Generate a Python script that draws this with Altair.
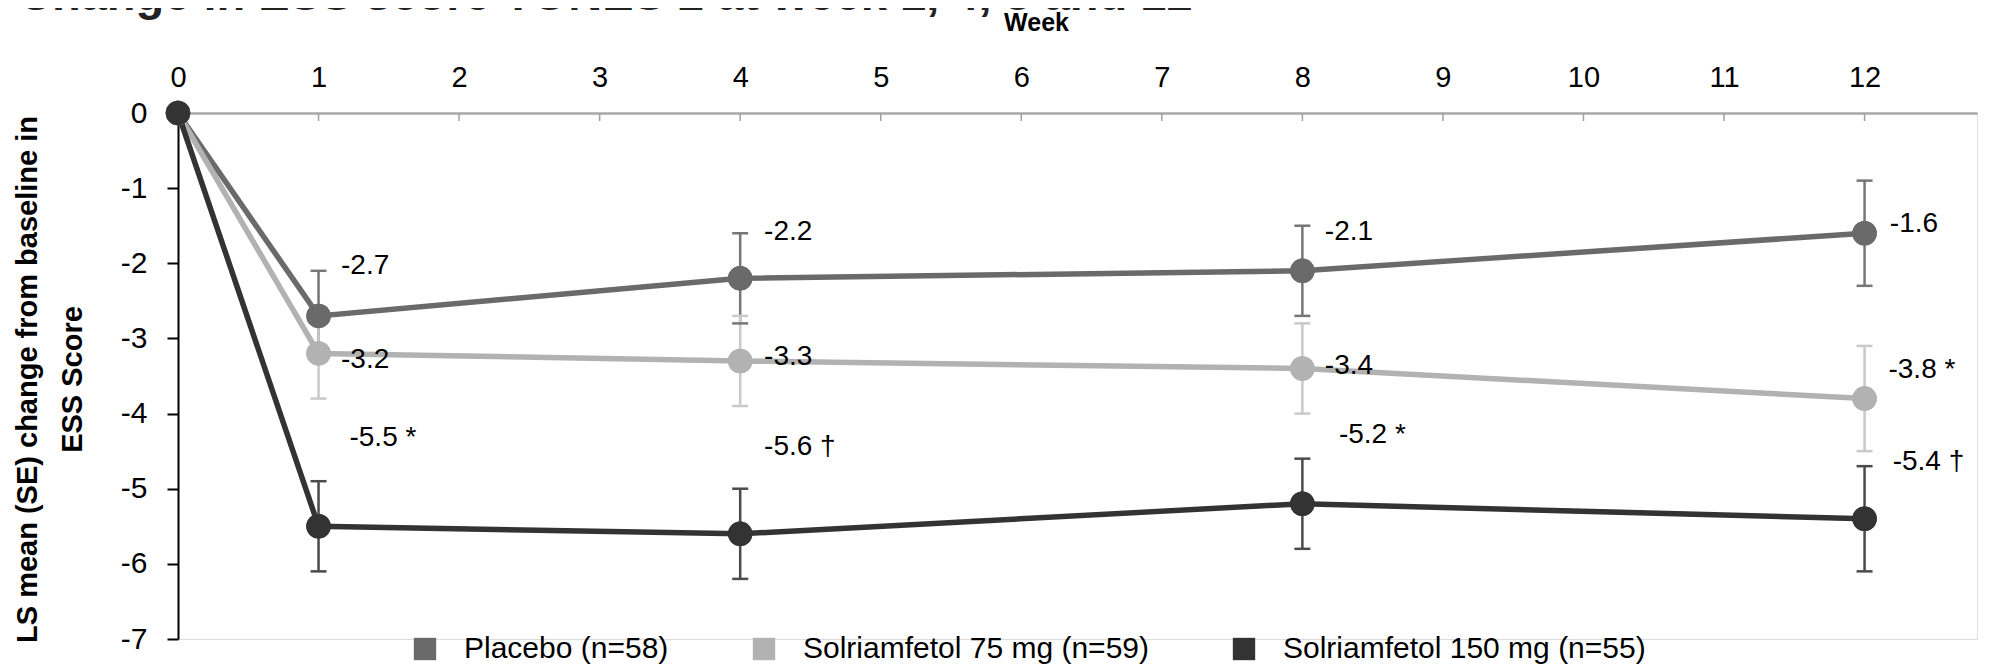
import altair as alt
import pandas as pd

# ---------------- data ----------------
weeks = [0, 1, 4, 8, 12]
groups = ["Placebo (n=58)", "Solriamfetol 75 mg (n=59)", "Solriamfetol 150 mg (n=55)"]
mean_placebo = [0.0, -2.7, -2.2, -2.1, -1.6]
mean_75 = [0.0, -3.2, -3.3, -3.4, -3.8]
mean_150 = [0.0, -5.5, -5.6, -5.2, -5.4]
se_placebo = [0.0, 0.6, 0.6, 0.6, 0.7]
se_75 = [0.0, 0.6, 0.6, 0.6, 0.7]
se_150 = [0.0, 0.6, 0.6, 0.6, 0.7]
sig_placebo = ["", "", "", "", ""]
sig_75 = ["", "", "", "", "*"]
sig_150 = ["", "*", "\u2020", "*", "\u2020"]
x_tick_values = list(range(0, 13))
y_tick_values = [0, -1, -2, -3, -4, -5, -6, -7]
title_text = "Change in ESS score TONES 2 at week 1, 4, 8 and 12"

# annotation anchors (in week / score units) for the value labels at weeks 1, 4, 8, 12
label_x = [[1.16, 4.17, 8.16, 12.18], [1.16, 4.17, 8.16, 12.17], [1.22, 4.17, 8.26, 12.2]]
label_y = [[-2.04, -1.58, -1.58, -1.48], [-3.29, -3.25, -3.37, -3.42], [-4.33, -4.45, -4.29, -4.65]]

line_colors = ["#6a6a6a", "#b2b2b2", "#333333"]
bar_colors = ["#767676", "#c9c9c9", "#4b4b4b"]

FONT = "Liberation Sans"

# ---------------- tables ----------------
means = [mean_placebo, mean_75, mean_150]
ses = [se_placebo, se_75, se_150]
sigs = [sig_placebo, sig_75, sig_150]

rows = []
for gi, g in enumerate(groups):
    for wi, w in enumerate(weeks):
        m, s = means[gi][wi], ses[gi][wi]
        rows.append({"week": w, "value": m, "group": g, "order": gi,
                     "lo": m - s, "hi": m + s, "se": s, "bcolor": bar_colors[gi]})
df = pd.DataFrame(rows)
df_err = df[df["se"] > 0]

lab_rows = []
for gi, g in enumerate(groups):
    for k, wi in enumerate(range(1, len(weeks))):
        v = means[gi][wi]
        sg = sigs[gi][wi]
        txt = f"{v:.1f}"
        if sg == "*":
            txt += "  *"
        elif sg:
            txt += " " + sg
        lab_rows.append({"lx": label_x[gi][k], "ly": label_y[gi][k], "label": txt})
df_lab = pd.DataFrame(lab_rows)

df_ticks = pd.DataFrame({"week": x_tick_values[1:]})
df_title = pd.DataFrame({"t": [title_text]})

# ---------------- scales ----------------
x_scale = alt.Scale(domain=[0, 12.8], nice=False, zero=False)
y_scale = alt.Scale(domain=[-7, 0], nice=False, zero=False)
color_scale = alt.Scale(domain=groups, range=line_colors)

legend = alt.Legend(
    title=None, orient="none", legendX=232, legendY=521, direction="horizontal",
    symbolType="square", symbolSize=500, symbolStrokeWidth=0, symbolOpacity=1,
    labelFontSize=30, labelFont=FONT, labelColor="#000000", labelOffset=24,
    columnPadding=80, labelLimit=0, padding=0,
)

x_axis = alt.Axis(
    orient="top", values=x_tick_values, format="d", grid=False,
    labelExpr="'' + datum.value",
    domainColor="#a8a8a8", domainWidth=2.5, ticks=False, tickSize=0,
    labelFontSize=29, labelFont=FONT, labelColor="#000000", labelPadding=21,
    labelFlush=False, labelOverlap=False,
    title="Week", titleFont=FONT, titleFontSize=25, titleFontWeight="bold",
    titleColor="#000000", titleX=858, titleY=-91, titleAlign="center",
    titleBaseline="middle", titleAnchor="start",
)
y_axis = alt.Axis(
    values=y_tick_values, grid=False,
    labelExpr="'' + datum.value",
    domainColor="#000000", domainWidth=2, tickColor="#000000", tickWidth=2, tickSize=11,
    labelFontSize=30, labelFont=FONT, labelColor="#000000", labelPadding=20,
    title=["LS mean (SE) change from baseline in", "ESS Score"],
    titleFont=FONT, titleFontSize=29, titleFontWeight="bold", titleColor="#000000",
    titleLineHeight=45, titleX=-151, titleY=266, titleAngle=270,
    titleAlign="center", titleBaseline="middle", titleAnchor="start",
)

base = alt.Chart(df)

err = alt.Chart(df_err).mark_rule(strokeWidth=2.5).encode(
    x=alt.X("week:Q", scale=x_scale, axis=x_axis),
    y=alt.Y("lo:Q", scale=y_scale, axis=y_axis),
    y2="hi:Q",
    color=alt.Color("bcolor:N", scale=None),
)
cap_lo = alt.Chart(df_err).mark_tick(orient="horizontal", size=16, thickness=2.5, opacity=1).encode(
    x=alt.X("week:Q", scale=x_scale),
    y=alt.Y("lo:Q", scale=y_scale),
    color=alt.Color("bcolor:N", scale=None),
)
cap_hi = alt.Chart(df_err).mark_tick(orient="horizontal", size=16, thickness=2.5, opacity=1).encode(
    x=alt.X("week:Q", scale=x_scale),
    y=alt.Y("hi:Q", scale=y_scale),
    color=alt.Color("bcolor:N", scale=None),
)

points_under = base.mark_circle(size=600, opacity=1).encode(
    x=alt.X("week:Q", scale=x_scale),
    y=alt.Y("value:Q", scale=y_scale),
    color=alt.Color("group:N", scale=color_scale, legend=legend, sort=groups),
    order=alt.Order("order:Q"),
)
lines = base.mark_line(strokeWidth=5.5).encode(
    x=alt.X("week:Q", scale=x_scale),
    y=alt.Y("value:Q", scale=y_scale),
    color=alt.Color("group:N", scale=color_scale, legend=legend, sort=groups),
    detail="group:N",
)
points_over = base.mark_circle(size=600, opacity=1).encode(
    x=alt.X("week:Q", scale=x_scale),
    y=alt.Y("value:Q", scale=y_scale),
    color=alt.Color("group:N", scale=color_scale, legend=legend, sort=groups),
    order=alt.Order("order:Q"),
)

labels = alt.Chart(df_lab).mark_text(
    align="left", baseline="middle", fontSize=28, font=FONT, color="#000000"
).encode(
    x=alt.X("lx:Q", scale=x_scale),
    y=alt.Y("ly:Q", scale=y_scale),
    text="label:N",
)

xticks = alt.Chart(df_ticks).mark_tick(size=8, thickness=1.5, color="#a0a0a0", opacity=1).encode(
    x=alt.X("week:Q", scale=x_scale),
    y=alt.value(4),
)

title_frag = alt.Chart(df_title).mark_text(
    align="left", baseline="alphabetic", fontSize=47, fontWeight="bold", font=FONT, color="#222222"
).encode(
    x=alt.value(-160),
    y=alt.value(-103),
    text="t:N",
)

chart = alt.layer(
    err, cap_lo, cap_hi, points_under, lines, points_over, labels, xticks, title_frag
).properties(
    width=1799, height=526,
    autosize=alt.AutoSizeParams(type="none"),
    padding={"left": 170, "top": 105, "right": 8, "bottom": 25},
).configure_view(stroke=None).configure(background="#ffffff")

chart.save("out.html", embed_options={"renderer": "svg", "actions": False})
